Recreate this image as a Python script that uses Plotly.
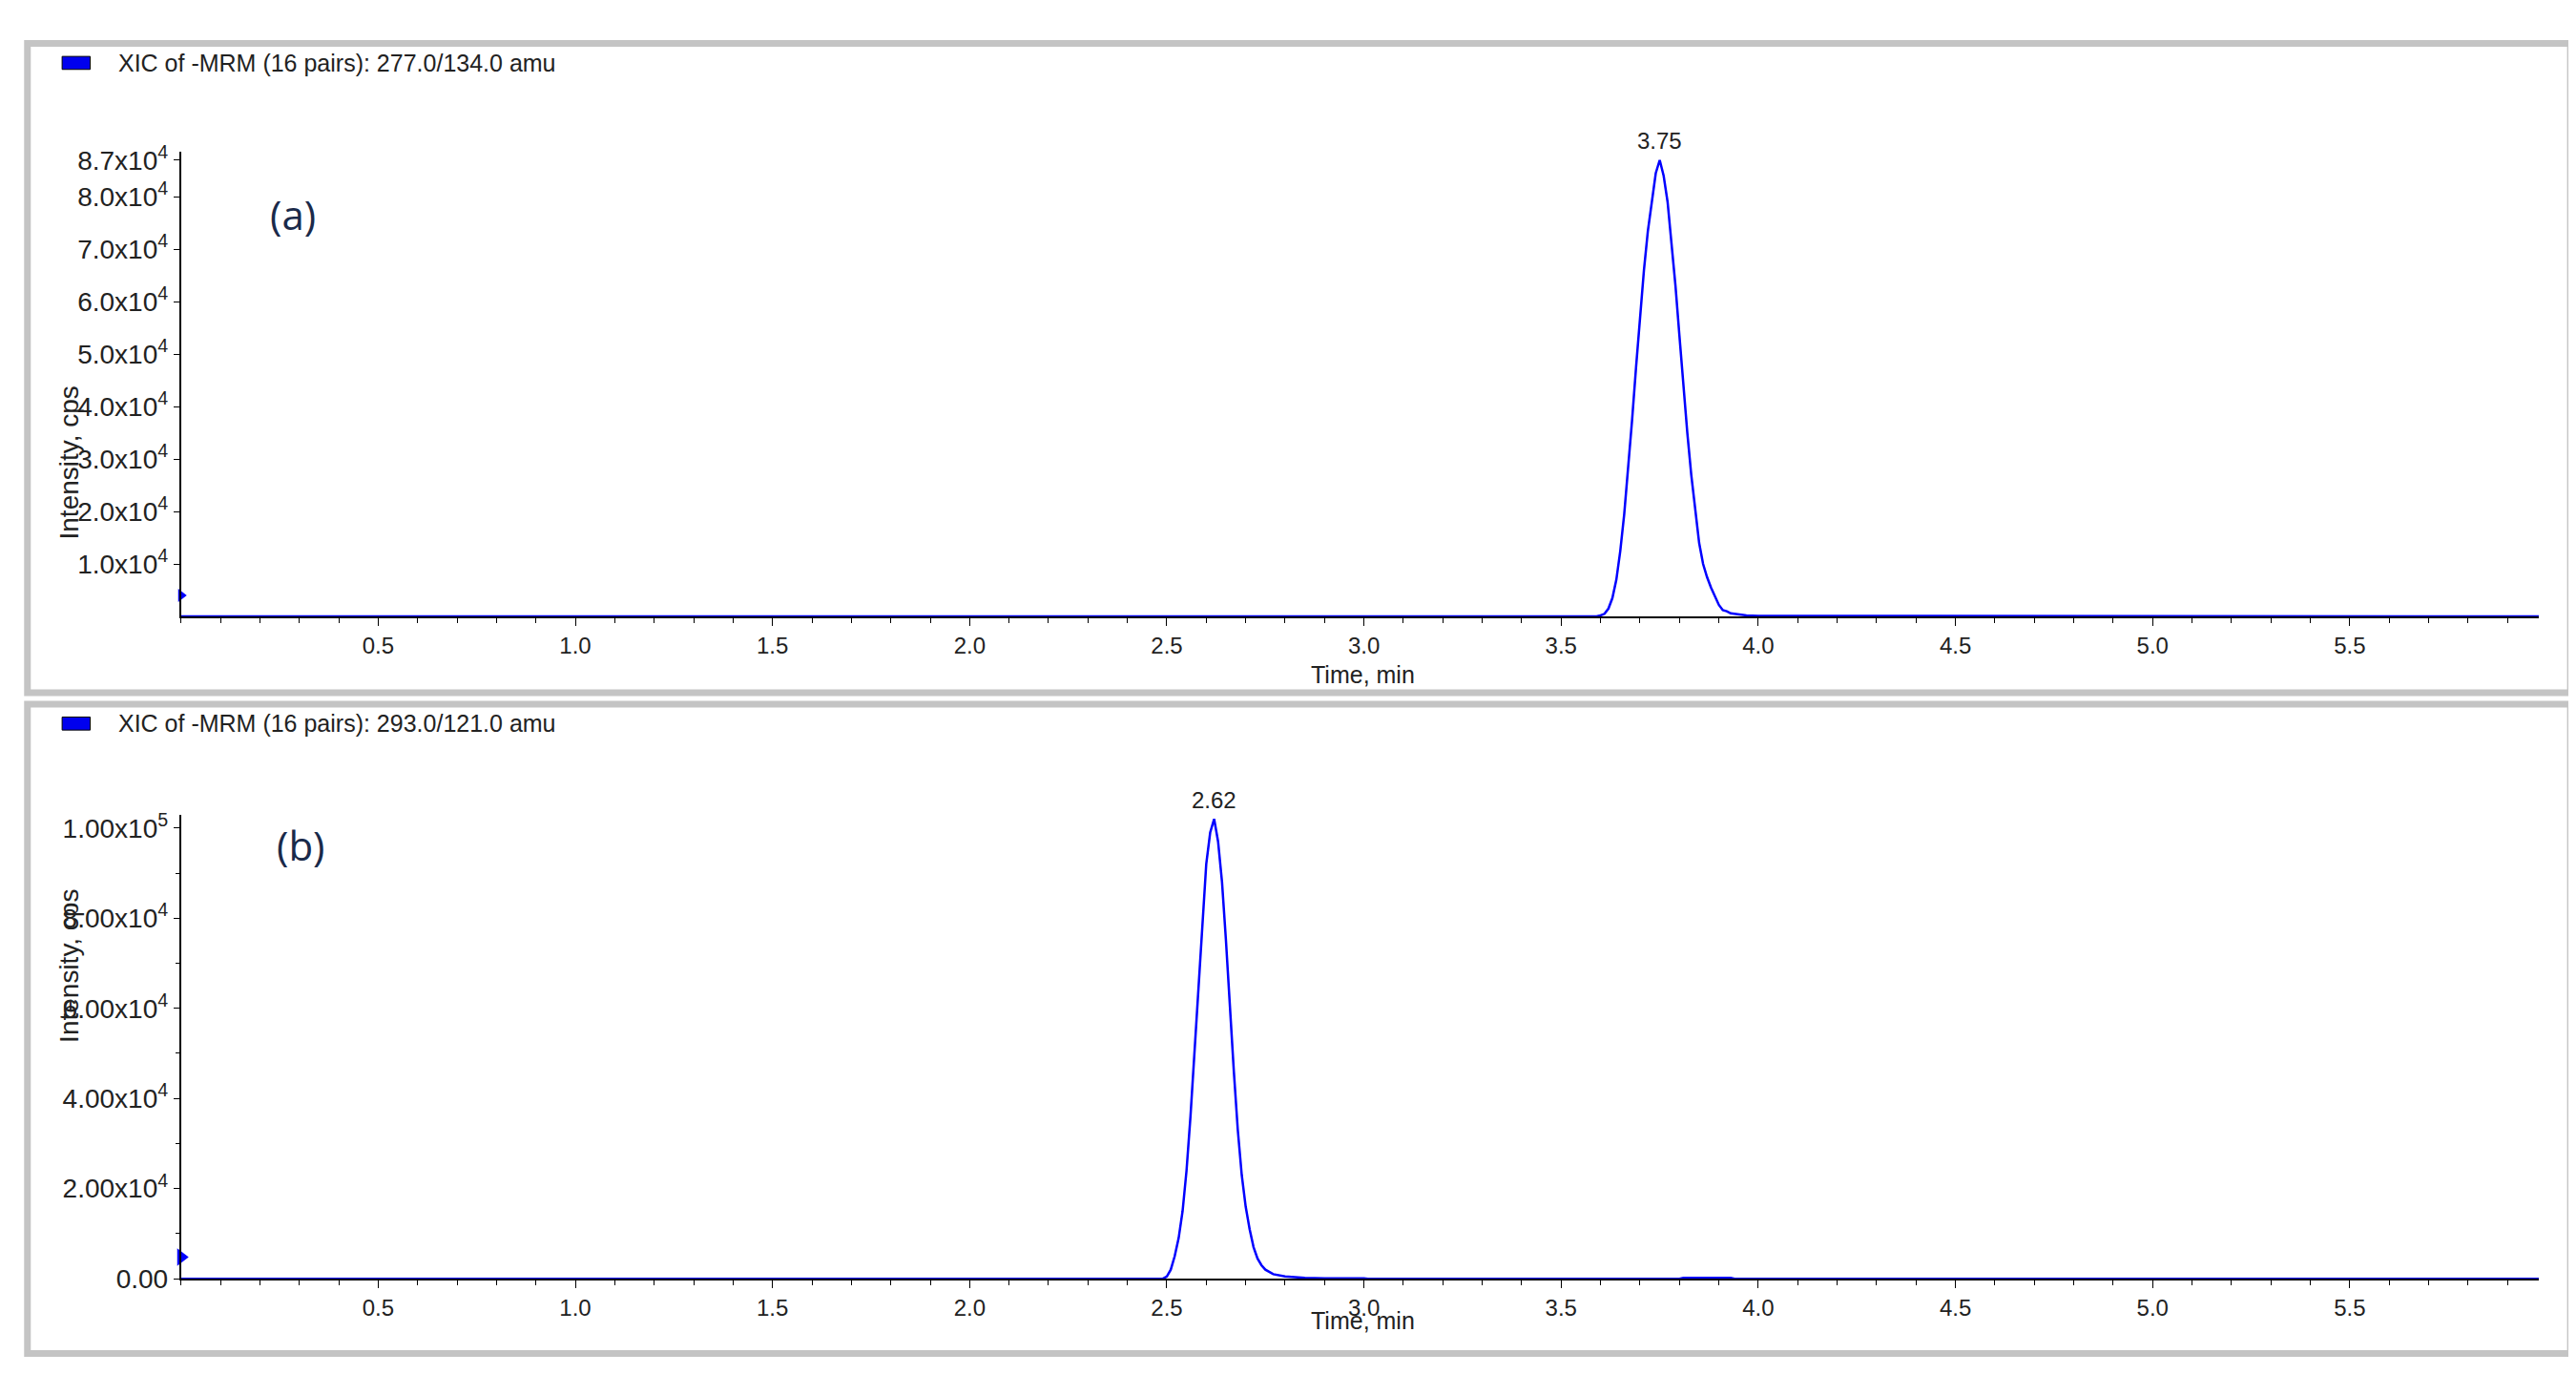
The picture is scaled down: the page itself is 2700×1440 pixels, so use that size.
import plotly.graph_objects as go

# ── data (intensity in cps, time in min) ─────────────────────────────────────
time_a = [0.0, 3.59, 3.60, 3.61, 3.62, 3.63, 3.64, 3.65, 3.66, 3.67, 3.68, 3.69, 3.70,
          3.71, 3.72, 3.73, 3.74, 3.75, 3.76, 3.77, 3.78, 3.79, 3.80, 3.81, 3.82,
          3.83, 3.84, 3.85, 3.86, 3.87, 3.88, 3.89, 3.90, 3.91, 3.92, 3.93, 3.94,
          3.95, 3.97, 4.00, 4.05, 4.10, 4.11, 5.98]
int_a = [0, 0, 200, 500, 1500, 3500, 7000, 12500, 19500, 28000, 37500, 47500, 57000,
         66000, 73500, 79500, 84500, 87000, 84000, 79000, 71500, 63000, 53500, 44000, 35000,
         27000, 20000, 14000, 10000, 7500, 5500, 3800, 2200, 1200, 1000, 600, 500,
         300, 200, 100, 100, 100, 0, 0]

time_b = [0.0, 2.49, 2.50, 2.51, 2.52, 2.53, 2.54, 2.55, 2.56, 2.57, 2.58, 2.59, 2.60,
          2.61, 2.62, 2.63, 2.64, 2.65, 2.66, 2.67, 2.68, 2.69, 2.70, 2.71, 2.72,
          2.73, 2.74, 2.75, 2.77, 2.80, 2.85, 2.90, 3.00, 3.01, 3.80, 3.81, 3.93, 3.94, 5.98]
int_b = [0, 0, 500, 2000, 5000, 9000, 15000, 24000, 36000, 50000, 65000, 80000, 92000,
         99000, 102000, 97000, 88000, 75000, 60000, 46000, 33000, 23000, 16000, 11000, 7000,
         4500, 3000, 2000, 1000, 500, 200, 100, 100, 0, 0, 200, 200, 0, 0]

ticks_a = [1e4, 2e4, 3e4, 4e4, 5e4, 6e4, 7e4, 8e4, 8.7e4]
ticktext_a = ["1.0x10<sup>4</sup>", "2.0x10<sup>4</sup>", "3.0x10<sup>4</sup>", "4.0x10<sup>4</sup>",
              "5.0x10<sup>4</sup>", "6.0x10<sup>4</sup>", "7.0x10<sup>4</sup>", "8.0x10<sup>4</sup>",
              "8.7x10<sup>4</sup>"]
ticks_b = [0, 2e4, 4e4, 6e4, 8e4, 1e5]
ticktext_b = ["0.00", "2.00x10<sup>4</sup>", "4.00x10<sup>4</sup>", "6.00x10<sup>4</sup>",
              "8.00x10<sup>4</sup>", "1.00x10<sup>5</sup>"]
time_ticks = [0.5, 1.0, 1.5, 2.0, 2.5, 3.0, 3.5, 4.0, 4.5, 5.0, 5.5]

titles = ["XIC of -MRM (16 pairs): 277.0/134.0 amu", "XIC of -MRM (16 pairs): 293.0/121.0 amu"]
peaks = [(3.75, 87000, "3.75"), (2.62, 102000, "2.62")]

W, H = 1560, 830  # layout sketched in these units, scaled to paper fractions
FONT = "Liberation Sans"
BLUE = "#0000ff"

fig = go.Figure()
fig.add_trace(go.Scatter(x=time_a, y=int_a, mode="lines", line=dict(color=BLUE, width=2.5),
                         xaxis="x", yaxis="y", showlegend=False))
fig.add_trace(go.Scatter(x=time_b, y=int_b, mode="lines", line=dict(color=BLUE, width=2.5),
                         xaxis="x2", yaxis="y2", showlegend=False))
# threshold markers on the y axis
fig.add_trace(go.Scatter(x=[0], y=[4000], mode="markers", cliponaxis=False,
                         marker=dict(symbol="triangle-right", color=BLUE, size=12),
                         xaxis="x", yaxis="y", showlegend=False))
fig.add_trace(go.Scatter(x=[0], y=[4800], mode="markers", cliponaxis=False,
                         marker=dict(symbol="triangle-right", color=BLUE, size=16),
                         xaxis="x2", yaxis="y2", showlegend=False))

xdom = [105 / W, 1533 / W]
xax = dict(range=[0, 5.98], domain=xdom, tickvals=time_ticks, ticktext=[f"{t:.1f}" for t in time_ticks],
           showline=True, linecolor="black", linewidth=2, ticks="outside", ticklen=8,
           tickcolor="black", showgrid=False, zeroline=False,
           minor=dict(dtick=0.1, ticks="outside", ticklen=5, tickcolor="black"),
           tickfont=dict(family=FONT, size=24, color="#222"))
yax = dict(showline=True, linecolor="black", linewidth=2, ticks="outside", ticklen=6,
           tickcolor="black", showgrid=False, zeroline=False,
           tickfont=dict(family=FONT, size=28, color="#222"))

fig.update_layout(
    width=2700, height=1440, paper_bgcolor="white", plot_bgcolor="white",
    margin=dict(l=0, r=0, t=0, b=0),
    xaxis=dict(**xax, anchor="y"),
    yaxis=dict(**yax, anchor="x", range=[0, 88500], domain=[1 - 368 / H, 1 - 82 / H],
               tickvals=ticks_a, ticktext=ticktext_a),
    xaxis2=dict(**xax, anchor="y2"),
    yaxis2=dict(**yax, anchor="x2", range=[0, 103000], domain=[1 - 776 / H, 1 - 490 / H],
                tickvals=ticks_b, ticktext=ticktext_b,
                minor=dict(dtick=1e4, ticks="outside", ticklen=4, tickcolor="black")),
)

# panel frames, headers, labels
for i, (top, bot) in enumerate([(15, 415), (422, 822)]):
    fig.add_shape(type="rect", xref="paper", yref="paper", x0=12 / W, x1=1552 / W,
                  y0=1 - bot / H, y1=1 - top / H, line=dict(color="#c4c4c4", width=7))
    fig.add_shape(type="rect", xref="paper", yref="paper", x0=33 / W, x1=50 / W,
                  y0=1 - (top + 16) / H, y1=1 - (top + 8) / H,
                  fillcolor="#0000ee", line=dict(color="black", width=1))
    fig.add_annotation(text=titles[i], xref="paper", yref="paper", x=66 / W,
                       y=1 - (top + 12) / H, xanchor="left", yanchor="middle", showarrow=False,
                       font=dict(family=FONT, size=25, color="#222"))
    fig.add_annotation(text="Intensity, cps", xref="paper", yref="paper", x=27 / W,
                       y=1 - (top + 210) / H, textangle=-90, showarrow=False,
                       font=dict(family=FONT, size=28, color="#222"))
    fig.add_annotation(text="Time, min", xref="paper", yref="paper", x=821 / W,
                       y=1 - (top + 389) / H, showarrow=False,
                       font=dict(family=FONT, size=25, color="#222"))
    fig.add_annotation(text="(a)" if i == 0 else "(b)", xref="paper", yref="paper",
                       x=(158 if i == 0 else 162) / W, y=1 - (top + 87) / H, showarrow=False,
                       font=dict(family="Open Sans", size=42, color="#1a2a4a"))
    xr, yr = ("x", "y") if i == 0 else ("x2", "y2")
    px_, py_, lbl = peaks[i]
    fig.add_annotation(text=lbl, xref=xr, yref=yr, x=px_, y=py_, yshift=20, showarrow=False,
                       font=dict(family=FONT, size=24, color="#222"))

fig.write_html("out.html")
